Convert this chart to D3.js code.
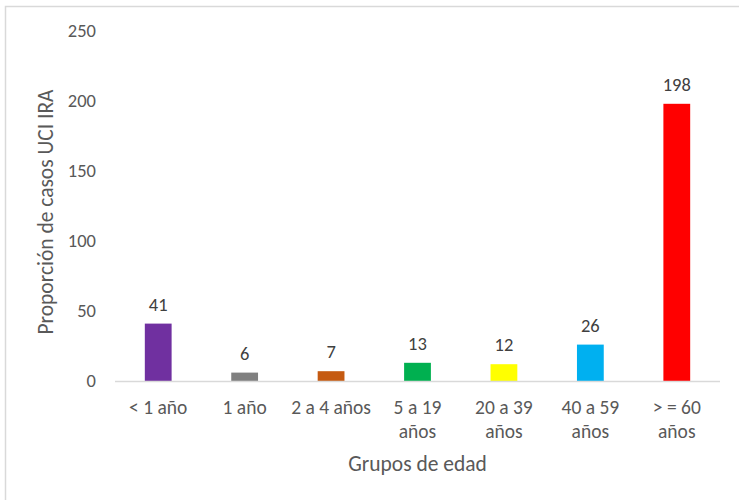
<!DOCTYPE html>
<html>
<head>
<meta charset="utf-8">
<script src="https://cdn.jsdelivr.net/npm/d3@7"></script>
<style>
  body { margin: 0; background: #fff; }
  text { font-family: Carlito, "Liberation Sans", "Open Sans", sans-serif; }
</style>
</head>
<body>
<div id="chart"></div>
<script>
// data
const grupos = [["< 1 año"], ["1 año"], ["2 a 4 años"], ["5 a 19", "años"], ["20 a 39", "años"], ["40 a 59", "años"], ["> = 60", "años"]];
const casos = [41, 6, 7, 13, 12, 26, 198];
const colores = ["#7030A0", "#808080", "#C55A11", "#00B050", "#FFFF00", "#00B0F0", "#FF0000"];
const yTicks = [0, 50, 100, 150, 200, 250];

const width = 739, height = 500;
const margin = {top: 31, right: 19, bottom: 119, left: 115};

const svg = d3.select("#chart").append("svg")
    .attr("width", width)
    .attr("height", height);

// chart frame (cut off at right/bottom like the original)
svg.append("rect")
    .attr("x", 5.5).attr("y", 6.5)
    .attr("width", 900).attr("height", 700)
    .attr("fill", "none")
    .attr("stroke", "#d9d9d9")
    .attr("stroke-width", 1.5);

const x = d3.scaleBand()
    .domain(d3.range(casos.length))
    .range([margin.left, width - margin.right])
    .paddingInner(0.69)
    .paddingOuter(0.345);

const y = d3.scaleLinear()
    .domain([0, 250])
    .range([height - margin.bottom, margin.top]);

// y axis (labels only)
const yAxis = svg.append("g")
    .attr("transform", `translate(${margin.left},0)`)
    .call(d3.axisLeft(y).tickValues(yTicks).tickSize(0).tickPadding(19));
yAxis.select(".domain").remove();
yAxis.selectAll("text")
    .attr("fill", "#595959")
    .style("font-size", "18.5px");

// bars
svg.append("g")
    .selectAll("rect")
    .data(casos)
    .enter().append("rect")
    .attr("x", (d, i) => x(i))
    .attr("y", d => y(d))
    .attr("width", x.bandwidth())
    .attr("height", d => y(0) - y(d))
    .attr("fill", (d, i) => colores[i]);

// value labels
svg.append("g")
    .selectAll("text")
    .data(casos)
    .enter().append("text")
    .attr("x", (d, i) => x(i) + x.bandwidth() / 2)
    .attr("y", d => y(d) - 13)
    .attr("text-anchor", "middle")
    .attr("fill", "#404040")
    .style("font-size", "18.5px")
    .text(d => d);

// x axis line
svg.append("line")
    .attr("x1", margin.left).attr("x2", width - margin.right)
    .attr("y1", y(0) + 0.5).attr("y2", y(0) + 0.5)
    .attr("stroke", "#d9d9d9")
    .attr("stroke-width", 1.5);

// category labels
const cat = svg.append("g")
    .selectAll("text")
    .data(grupos)
    .enter().append("text")
    .attr("x", (d, i) => x(i) + x.bandwidth() / 2)
    .attr("y", y(0) + 33)
    .attr("text-anchor", "middle")
    .attr("fill", "#595959")
    .style("font-size", "19.5px");
cat.selectAll("tspan")
    .data(d => d)
    .enter().append("tspan")
    .attr("x", function() { return d3.select(this.parentNode).attr("x"); })
    .attr("dy", (d, i) => i === 0 ? 0 : 24)
    .text(d => d);

// axis titles
svg.append("text")
    .attr("x", (margin.left + width - margin.right) / 2)
    .attr("y", 471)
    .attr("text-anchor", "middle")
    .attr("fill", "#595959")
    .style("font-size", "21.5px")
    .text("Grupos de edad");

svg.append("text")
    .attr("transform", `translate(53,212) rotate(-90)`)
    .attr("text-anchor", "middle")
    .attr("fill", "#595959")
    .style("font-size", "21.5px")
    .text("Proporción de casos UCI IRA");
</script>
</body>
</html>
